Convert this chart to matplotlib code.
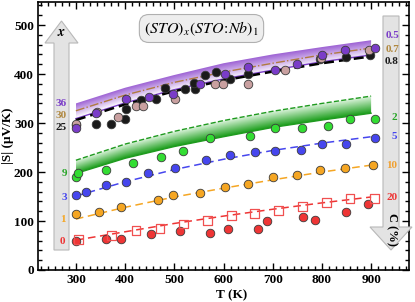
import numpy as np
import matplotlib
matplotlib.use("Agg")
import matplotlib.pyplot as plt
from matplotlib.ticker import MultipleLocator
from matplotlib.patches import Polygon
from matplotlib.colors import to_rgb

plt.rcParams['font.family'] = ['Liberation Serif', 'DejaVu Serif']
plt.rcParams['mathtext.fontset'] = 'stix'

# ---------------- data ----------------
# measured points
red_c_T = [300, 361, 392, 452, 512, 573, 609, 670, 689, 761, 786, 848, 893]
red_c_S = [59, 64, 64, 73, 79, 76, 84, 84, 99, 108, 103, 118, 134]
red_s_T = [305, 373, 422, 471, 519, 567, 616, 663, 711, 761, 810, 857, 907]
red_s_S = [63, 71, 80, 84, 94, 101, 111, 116, 121, 129, 137, 146, 146]
orange_T = [300, 346, 391, 467, 497, 553, 604, 649, 701, 750, 797, 847, 903]
orange_S = [114, 119, 129, 143, 154, 158, 169, 175, 189, 194, 204, 209, 214]
blue_T = [300, 320, 361, 401, 446, 502, 565, 613, 665, 705, 757, 801, 848, 908]
blue_S = [154, 159, 174, 179, 199, 209, 224, 235, 240, 243, 244, 258, 258, 270]
green_T = [300, 305, 361, 417, 472, 518, 573, 654, 705, 760, 812, 857, 908]
green_S = [189, 199, 205, 219, 230, 243, 270, 274, 290, 290, 294, 309, 309]
black_T = [300, 341, 371, 400, 402, 432, 462, 482, 522, 543, 540, 563, 584, 614, 650, 797, 848, 898]
black_S = [296, 299, 299, 309, 329, 346, 350, 371, 369, 369, 381, 399, 405, 389, 400, 430, 435, 439]
brown_T = [300, 343, 386, 422, 437, 502, 582, 598, 650, 725, 798, 896]
brown_S = [299, 322, 312, 335, 335, 348, 380, 380, 380, 409, 432, 450]
purple_T = [300, 341, 401, 448, 497, 553, 604, 650, 704, 750, 801, 847, 908]
purple_S = [289, 320, 349, 354, 359, 379, 400, 415, 409, 420, 439, 450, 454]

# model curves read at every 100 K
curve_T = [300, 400, 500, 600, 700, 800, 900]
red_fit = [61, 78, 95, 110, 124, 137, 149]
orange_fit = [104, 128, 149, 167, 184, 200, 214]
blue_fit = [151, 180, 205, 226, 244, 259, 272]
green_hi = [224, 257, 283, 305, 324, 340, 355]
green_lo = [197, 228, 252, 272, 291, 306, 320]
purple_hi = [340, 372, 398, 422, 440, 455, 469]
purple_lo = [312, 343, 368, 390, 407, 423, 437]
brown_fit = [325, 357, 383, 404, 422, 439, 453]
black_fit = [306, 338, 365, 387, 405, 422, 436]
purple_fit = [309, 341, 368, 390, 408, 425, 439]

left_labels = ['36', '30', '25', '9', '3', '1', '0']
right_labels = ['0.5', '0.7', '0.8', '2', '5', '10', '20']

C_RED = '#ee3535'
C_ORANGE = '#f5a623'
C_BLUE = '#4646ee'
C_GREEN = '#33dd33'
C_GREEN_D = '#1f9a1f'
C_PURPLE = '#7a3cc8'
C_BROWN = '#c9a0a0'
C_BROWN_T = '#b08840'
C_BLACK = '#1a1a1a'

W, H = 415, 302
fig = plt.figure(figsize=(W / 100, H / 100), dpi=100)
ax = fig.add_axes([38 / W, 1 - 270 / H, (409 - 38) / W, (270 - 2) / H])

XL = (223, 977)
YL = (0, 547)


def px(x, y):
    return (x / W, 1 - y / H)


# ---------- gray arrows (figure coords) ----------
left_arrow = [(54, 250), (69, 250), (69, 43), (78, 43), (61.5, 21), (45, 43), (54, 43)]
right_arrow = [(383, 16), (399, 16), (399, 227), (412, 227), (391, 250), (370, 227), (383, 227)]
for pts in (left_arrow, right_arrow):
    poly = Polygon([px(*p) for p in pts], closed=True, transform=fig.transFigure,
                   facecolor='#e3e3e3', edgecolor='#b8b8b8', lw=0.8, zorder=0.5)
    fig.patches.append(poly)


def gradient_band(T, lo, hi, c_lo, c_hi, z):
    T = np.asarray(T, float)
    lo = np.asarray(lo, float)
    hi = np.asarray(hi, float)
    verts = list(zip(T, lo)) + list(zip(T[::-1], hi[::-1]))
    clip = Polygon(verts, closed=True, facecolor='none', edgecolor='none')
    ax.add_patch(clip)
    ny = 4 * max(int((hi.max() - lo.min()) * 0.49), 10)
    nx = 4 * max(int((T[-1] - T[0]) * 0.49), 10)
    xs = np.linspace(T[0], T[-1], nx)
    ys = np.linspace(lo.min(), hi.max(), ny)
    X, Y = np.meshgrid(xs, ys)
    L = np.interp(X, T, lo)
    Hh = np.interp(X, T, hi)
    F = np.clip((Y - L) / (Hh - L), 0, 1)[..., None]
    c0 = np.array(to_rgb(c_lo))
    c1 = np.array(to_rgb(c_hi))
    rgb = c0 * (1 - F) + c1 * F
    im = ax.imshow(rgb, extent=[xs[0], xs[-1], ys[0], ys[-1]], origin='lower',
                   aspect='auto', zorder=z, interpolation='antialiased',
                   interpolation_stage='rgba')
    im.set_clip_path(clip)


gradient_band(curve_T, green_lo, green_hi, '#20a020', '#e6f8e6', 1)
gradient_band(curve_T, purple_lo, purple_hi, '#f8f2fc', '#9d62d4', 1)

# curves
ax.plot(curve_T, green_hi, '--', color=C_GREEN_D, lw=1.0, zorder=2)
ax.plot(curve_T, green_lo, '-', color=C_GREEN_D, lw=1.0, zorder=2)
ax.plot(curve_T, red_fit, '--', color=C_RED, lw=1.1, dashes=(5, 3), zorder=2)
ax.plot(curve_T, orange_fit, '--', color=C_ORANGE, lw=1.1, dashes=(5, 3), zorder=2)
ax.plot(curve_T, blue_fit, '--', color=C_BLUE, lw=1.1, dashes=(5, 3), zorder=2)
ax.plot(curve_T, purple_fit, '-', color=C_PURPLE, lw=1.0, zorder=2)
ax.plot(curve_T, brown_fit, '-.', color='#b07a40', lw=1.0, zorder=2)
ax.plot(curve_T, black_fit, '--', color='black', lw=1.8, dashes=(4, 2), zorder=2.1)

# points
ms = 38
ek = dict(edgecolors='#3a3a3a', linewidths=0.6, zorder=3)
ax.scatter(red_c_T, red_c_S, s=ms, color=C_RED, **ek)
ax.scatter(red_s_T, red_s_S, s=40, marker='s', facecolors='none', edgecolors='#f05050',
           linewidths=0.9, zorder=3)
ax.scatter(orange_T, orange_S, s=ms, color=C_ORANGE, **ek)
ax.scatter(blue_T, blue_S, s=ms, color=C_BLUE, **ek)
ax.scatter(green_T, green_S, s=ms, color=C_GREEN, **ek)
ax.scatter(black_T, black_S, s=ms, color=C_BLACK, **ek)
ax.scatter(brown_T, brown_S, s=ms, color=C_BROWN, **ek)
ax.scatter(purple_T, purple_S, s=ms, color=C_PURPLE, **ek)

ax.set_xlim(*XL)
ax.set_ylim(*YL)

# ticks
ax.xaxis.set_major_locator(MultipleLocator(100))
ax.xaxis.set_minor_locator(MultipleLocator(100 / 7))
ax.yaxis.set_major_locator(MultipleLocator(100))
ax.yaxis.set_minor_locator(MultipleLocator(20))
ax.tick_params(which='both', direction='in', top=True, right=True, width=1.0)
ax.tick_params(which='major', length=5, labelsize=9.5, pad=3)
ax.tick_params(which='minor', length=3)
for lab in ax.get_xticklabels() + ax.get_yticklabels():
    lab.set_fontweight('bold')
for s in ax.spines.values():
    s.set_linewidth(1.2)

ax.set_xlabel('T (K)', fontsize=9.5, fontweight='bold')
ax.xaxis.set_label_coords((232 - 38) / 371, -(289 - 270) / 268)
ax.set_ylabel('|S| (μV/K)', fontsize=9.5, fontweight='bold')
ax.yaxis.set_label_coords(-(38 - 14) / 371, 0.5)

# title box
ax.text((201.5 - 38) / 371, (270 - 28.5) / 268, r'$(STO)_x(STO\!:\!Nb)_1$',
        transform=ax.transAxes, ha='center', va='center', fontsize=11.5,
        bbox=dict(boxstyle='round,pad=0.3,rounding_size=0.6', fc='#eeeeee', ec='#b0b0b0', lw=0.8),
        zorder=5)

# arrow labels
fig.text(*px(61.5, 32), r'$\boldsymbol{x}$', ha='center', va='center', fontsize=10)
fig.text(*px(392, 229), 'C (%)', rotation=-90, ha='center', va='center', fontsize=9,
         fontweight='bold')

left_pos = [(61.5, 103), (61.5, 116), (61.5, 128), (64, 174), (64, 197), (62.5, 219), (62.5, 241)]
left_cols = [C_PURPLE, C_BROWN_T, C_BLACK, '#2aa52a', C_BLUE, C_ORANGE, C_RED]
for t, (x, y), c in zip(left_labels, left_pos, left_cols):
    fig.text(*px(x, y), t, color=c, ha='center', va='center', fontsize=8, fontweight='bold')

right_pos = [(392, 36), (392, 49), (392, 62), (394, 117), (394, 136), (392, 165), (392, 198)]
right_cols = [C_PURPLE, C_BROWN_T, C_BLACK, '#2aa52a', C_BLUE, '#f0a030', C_RED]
for t, (x, y), c in zip(right_labels, right_pos, right_cols):
    fig.text(*px(x, y), t, color=c, ha='center', va='center', fontsize=8, fontweight='bold')

fig.savefig('out.png', dpi=100)
